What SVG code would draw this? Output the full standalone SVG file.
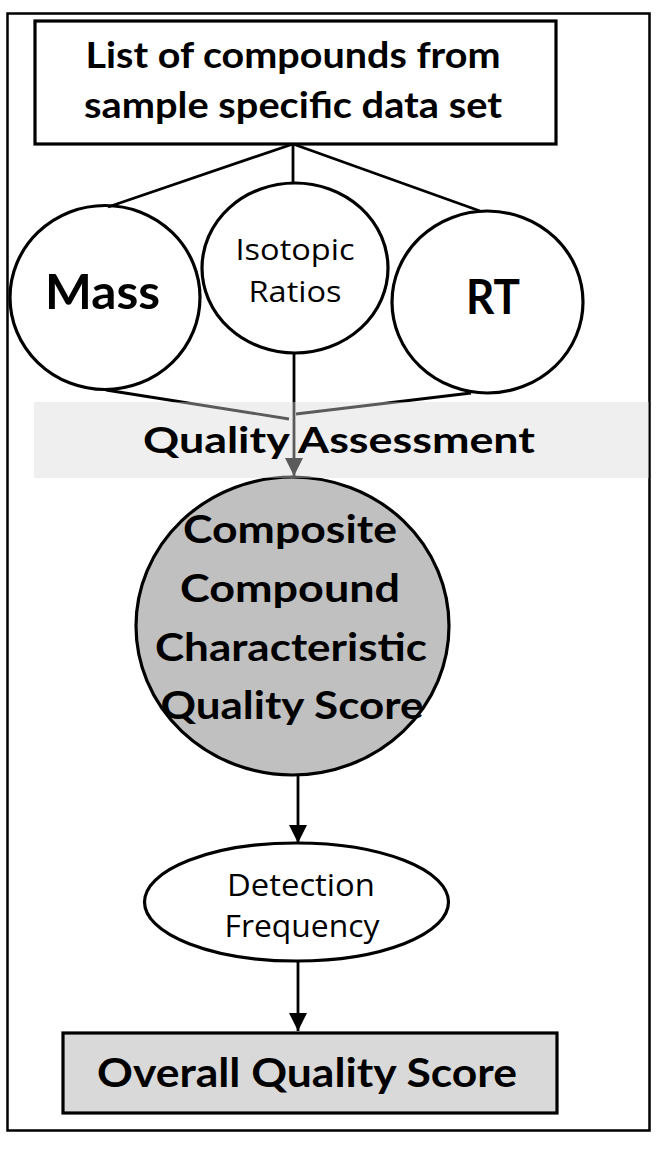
<svg xmlns="http://www.w3.org/2000/svg" width="658" height="1150" viewBox="0 0 658 1150">
  <style>
    .b { font-family: Lato, "Open Sans", "Liberation Sans", sans-serif; font-weight: 700; fill: #000; text-anchor: middle; }
    .r { font-family: "Open Sans", Lato, "Liberation Sans", sans-serif; font-weight: 400; fill: #000; text-anchor: middle; }
    .node { stroke: #000; stroke-width: 3.2; }
    .conn { stroke: #000; stroke-width: 2.8; fill: none; }
  </style>
  <defs>
    <marker id="arrow" markerUnits="userSpaceOnUse" markerWidth="18" markerHeight="18" viewBox="0 0 16 16" refX="16" refY="8" orient="auto">
      <path d="M0,0 L16,8 L0,16 Z" fill="#000"/>
    </marker>
  </defs>
  <rect x="0" y="0" width="658" height="1150" fill="#fff"/>
  <rect id="frame" x="7.5" y="13.5" width="642" height="1117" fill="none" stroke="#000" stroke-width="2.5"/>

  <g id="compound-list">
    <rect class="node" x="35" y="21" width="521" height="123" fill="#fff"/>
    <text class="b" x="293" y="68" font-size="37" textLength="415" lengthAdjust="spacingAndGlyphs">List of compounds from</text>
    <text class="b" x="293" y="118" font-size="37" textLength="418" lengthAdjust="spacingAndGlyphs">sample specific data set</text>
  </g>

  <g id="mass">
    <ellipse class="node" cx="105" cy="297.5" rx="95" ry="92" fill="#fff"/>
    <text class="b" x="102.5" y="309" font-size="48" textLength="115" lengthAdjust="spacingAndGlyphs">Mass</text>
  </g>

  <g id="isotopic-ratios">
    <ellipse class="node" cx="295" cy="268" rx="93" ry="85" fill="#fff"/>
    <text class="r" x="295" y="260" font-size="30" textLength="119" lengthAdjust="spacingAndGlyphs">Isotopic</text>
    <text class="r" x="295" y="302" font-size="30" textLength="93" lengthAdjust="spacingAndGlyphs">Ratios</text>
  </g>

  <g id="rt">
    <ellipse class="node" cx="487.5" cy="302" rx="95.5" ry="91" fill="#fff"/>
    <text class="b" x="493" y="314" font-size="47" textLength="54" lengthAdjust="spacingAndGlyphs">RT</text>
  </g>

  <g id="composite-score">
    <ellipse class="node" cx="292.5" cy="626" rx="156.5" ry="149" fill="#c0c0c0"/>
  </g>

  <g id="connectors">
    <line class="conn" x1="293" y1="144" x2="108" y2="207"/>
    <line class="conn" x1="293" y1="144" x2="293" y2="183"/>
    <line class="conn" x1="293" y1="144" x2="480" y2="211"/>
    <line class="conn" x1="106" y1="390" x2="289" y2="419"/>
    <line class="conn" x1="471" y1="393" x2="296" y2="414"/>
    <line class="conn" x1="294" y1="353" x2="294" y2="476" marker-end="url(#arrow)"/>
    <line class="conn" x1="298" y1="775" x2="298" y2="843" marker-end="url(#arrow)"/>
    <line class="conn" x1="298" y1="961" x2="298" y2="1031" marker-end="url(#arrow)"/>
  </g>

  <g id="quality-assessment">
    <rect x="34" y="402" width="615" height="76" fill="rgb(216,216,216)" fill-opacity="0.42"/>
    <text class="b" x="339" y="453" font-size="36" textLength="392" lengthAdjust="spacingAndGlyphs">Quality Assessment</text>
  </g>

  <g id="composite-score-label">
    <text class="b" x="290" y="543" font-size="39" textLength="214" lengthAdjust="spacingAndGlyphs">Composite</text>
    <text class="b" x="290" y="602" font-size="39" textLength="220" lengthAdjust="spacingAndGlyphs">Compound</text>
    <text class="b" x="291" y="661" font-size="39" textLength="272" lengthAdjust="spacingAndGlyphs">Characteristic</text>
    <text class="b" x="292" y="719" font-size="39" textLength="263" lengthAdjust="spacingAndGlyphs">Quality Score</text>
  </g>

  <g id="detection-frequency">
    <ellipse class="node" cx="296.5" cy="902" rx="152" ry="59" fill="#fff"/>
    <text class="r" x="301" y="896" font-size="31" textLength="148" lengthAdjust="spacingAndGlyphs">Detection</text>
    <text class="r" x="302" y="937" font-size="31" textLength="155" lengthAdjust="spacingAndGlyphs">Frequency</text>
  </g>

  <g id="overall-score">
    <rect class="node" x="63" y="1033" width="494" height="80" fill="#d9d9d9"/>
    <text class="b" x="307" y="1087" font-size="40" textLength="420" lengthAdjust="spacingAndGlyphs">Overall Quality Score</text>
  </g>
</svg>
